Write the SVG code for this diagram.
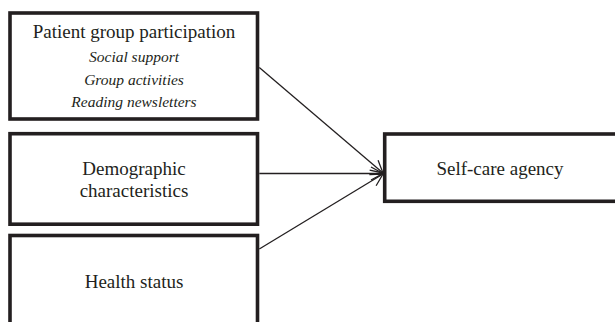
<svg xmlns="http://www.w3.org/2000/svg" width="615" height="322" viewBox="0 0 615 322">
<style>
.box{fill:#fff;stroke:#231f20;stroke-width:3.6}
.t{font-family:"Liberation Serif","Times New Roman",serif;font-size:19px;fill:#231f20;text-anchor:middle}
.i{font-family:"Liberation Serif","Times New Roman",serif;font-size:15.5px;font-style:italic;fill:#231f20;text-anchor:middle}
.c{stroke:#231f20;stroke-width:1.3;fill:none}
</style>
<defs>
<marker id="arr" markerUnits="userSpaceOnUse" markerWidth="16" markerHeight="16" refX="13" refY="8" orient="auto">
<path d="M1,1.5 L13,8 L1,14.5" fill="none" stroke="#231f20" stroke-width="1.3"/>
</marker>
</defs>
<rect width="615" height="322" fill="#fff"/>
<g id="patient-group">
<rect class="box" x="10" y="13" width="247.5" height="106"/>
<text class="t" x="134" y="38">Patient group participation</text>
<text class="i" x="134" y="62">Social support</text>
<text class="i" x="134" y="84.5">Group activities</text>
<text class="i" x="134" y="107">Reading newsletters</text>
</g>
<g id="demographic">
<rect class="box" x="10" y="133.7" width="247.5" height="90.5"/>
<text class="t" x="134" y="175">Demographic</text>
<text class="t" x="134" y="197">characteristics</text>
</g>
<g id="health">
<rect class="box" x="10" y="235.5" width="247.5" height="100"/>
<text class="t" x="134" y="288">Health status</text>
</g>
<g id="selfcare">
<rect class="box" x="384.7" y="134" width="240" height="67.3"/>
<text class="t" x="500" y="175">Self-care agency</text>
</g>
<g id="connectors">
<line class="c" x1="259.3" y1="67.5" x2="383" y2="173" marker-end="url(#arr)"/>
<line class="c" x1="259.3" y1="173.5" x2="383" y2="173.5" marker-end="url(#arr)"/>
<line class="c" x1="259.3" y1="249" x2="383" y2="174" marker-end="url(#arr)"/>
</g>
</svg>
